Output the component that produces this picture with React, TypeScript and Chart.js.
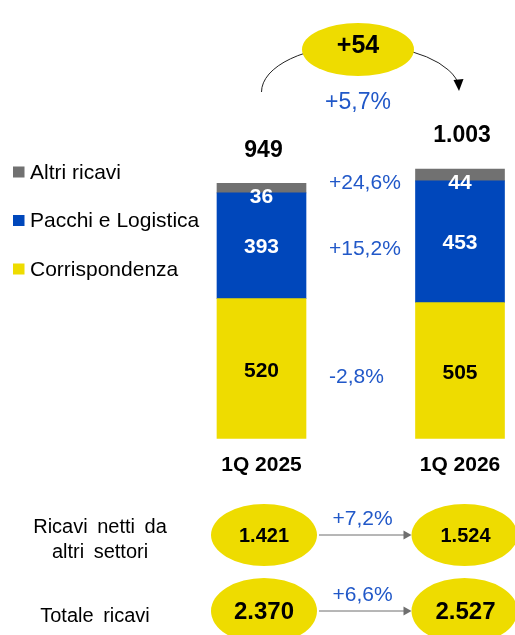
import React, { useEffect, useRef } from 'react';
import Chart from 'chart.js/auto';

const categories = ['1Q 2025', '1Q 2026'];
const corrispondenza = [520, 505];
const pacchiLogistica = [393, 453];
const altriRicavi = [36, 44];
const totals = [949, 1003];
const seriesNames = ['Corrispondenza', 'Pacchi e Logistica', 'Altri ricavi'];
const seriesColors = ['#EEDC00', '#0047BB', '#717171'];
const segmentChanges = ['-2,8%', '+15,2%', '+24,6%'];
const totalDelta = '+54';
const totalChange = '+5,7%';
const rowLabels = [['Ricavi netti da', 'altri settori'], ['Totale ricavi']];
const rows2025 = [1421, 2370];
const rows2026 = [1524, 2527];
const rowChanges = ['+7,2%', '+6,6%'];

const FONT = '"Liberation Sans", Arial, sans-serif';
const BLUE_TXT = '#2158C8';
const YELLOW = '#EEDC00';
const fmt = (n: number) => String(n).replace(/\B(?=(\d{3})+(?!\d))/g, '.');

const overlay = {
  id: 'overlay',
  afterDatasetsDraw(chart: any) {
    const ctx: CanvasRenderingContext2D = chart.ctx;
    const xs = chart.scales.x;
    const ys = chart.scales.y;
    const x1 = xs.getPixelForValue(0);
    const x2 = xs.getPixelForValue(1);
    ctx.save();
    ctx.textAlign = 'center';
    ctx.textBaseline = 'middle';

    // segment labels
    chart.data.datasets.forEach((ds: any, di: number) => {
      const meta = chart.getDatasetMeta(di);
      meta.data.forEach((el: any, i: number) => {
        const top = el.y;
        const bottom = el.base;
        const ly = di === 2 ? top + 14 : (top + bottom) / 2 + (di === 0 ? 3 : 1);
        ctx.font = `bold 21px ${FONT}`;
        ctx.fillStyle = di === 0 ? '#000000' : '#ffffff';
        ctx.fillText(String(ds.data[i]), el.x, ly);
      });
    });

    // segment change labels, aligned to second bar's segments
    chart.data.datasets.forEach((ds: any, di: number) => {
      const el = chart.getDatasetMeta(di).data[1];
      const ly = di === 2 ? el.y + 14 : (el.y + el.base) / 2 + 7;
      ctx.font = `21px ${FONT}`;
      ctx.fillStyle = BLUE_TXT;
      ctx.textAlign = 'left';
      ctx.fillText(segmentChanges[di], 329, ly);
      ctx.textAlign = 'center';
    });

    // totals above bars
    categories.forEach((c, i) => {
      const ty = ys.getPixelForValue(totals[i]) - 33;
      ctx.font = `bold 23px ${FONT}`;
      ctx.fillStyle = '#000000';
      ctx.fillText(fmt(totals[i]), xs.getPixelForValue(i) + 2, ty);
      ctx.font = `bold 21px ${FONT}`;
      ctx.fillText(c, xs.getPixelForValue(i), ys.getPixelForValue(0) + 27);
    });

    // top arc with arrow
    const cx = (x1 + x2) / 2;
    const rx = (x2 - x1) / 2;
    ctx.strokeStyle = '#222222';
    ctx.lineWidth = 1;
    ctx.beginPath();
    ctx.ellipse(cx, 92, rx, 47, 0, Math.PI, Math.PI * 2 - 0.12);
    ctx.stroke();
    ctx.fillStyle = '#000000';
    ctx.beginPath();
    ctx.moveTo(x2 - 1, 91);
    ctx.lineTo(x2 - 6.5, 80);
    ctx.lineTo(x2 + 3.5, 79);
    ctx.closePath();
    ctx.fill();

    // +54 bubble
    ctx.fillStyle = YELLOW;
    ctx.beginPath();
    ctx.ellipse(358, 49.5, 56, 26.5, 0, 0, Math.PI * 2);
    ctx.fill();
    ctx.fillStyle = '#000000';
    ctx.font = `bold 25px ${FONT}`;
    ctx.fillText(totalDelta, 358, 46);
    ctx.font = `23px ${FONT}`;
    ctx.fillStyle = BLUE_TXT;
    ctx.fillText(totalChange, 358, 103);

    // legend
    [2, 1, 0].forEach((di, k) => {
      const ly = 172 + k * 48.5;
      ctx.fillStyle = seriesColors[di];
      ctx.fillRect(13, ly - 5.5, 11.5, 11);
      ctx.fillStyle = '#000000';
      ctx.font = `21px ${FONT}`;
      ctx.textAlign = 'left';
      ctx.fillText(seriesNames[di], 30, ly + 1);
      ctx.textAlign = 'center';
    });

    // bottom rows
    const rowY = [535, 611];
    const rowFont = [20, 24];
    const rowRy = [31, 33];
    rowY.forEach((ry, r) => {
      const lx = x1 + 2.5;
      const rx2 = x2 + 4.5;
      ctx.fillStyle = YELLOW;
      ctx.beginPath();
      ctx.ellipse(lx, ry, 53, rowRy[r], 0, 0, Math.PI * 2);
      ctx.fill();
      ctx.beginPath();
      ctx.ellipse(rx2, ry, 53, rowRy[r], 0, 0, Math.PI * 2);
      ctx.fill();
      ctx.fillStyle = '#000000';
      ctx.font = `bold ${rowFont[r]}px ${FONT}`;
      ctx.fillText(fmt(rows2025[r]), lx, ry + 1);
      ctx.fillText(fmt(rows2026[r]), rx2 + 1, ry + 1);
      // arrow
      ctx.strokeStyle = '#6F6F6F';
      ctx.lineWidth = 1;
      ctx.beginPath();
      ctx.moveTo(lx + 55, ry);
      ctx.lineTo(rx2 - 58, ry);
      ctx.stroke();
      ctx.fillStyle = '#6F6F6F';
      ctx.beginPath();
      ctx.moveTo(rx2 - 53, ry);
      ctx.lineTo(rx2 - 61, ry - 4.5);
      ctx.lineTo(rx2 - 61, ry + 4.5);
      ctx.closePath();
      ctx.fill();
      ctx.fillStyle = BLUE_TXT;
      ctx.font = `21px ${FONT}`;
      ctx.fillText(rowChanges[r], 362.5, ry - 16);
      // row label
      ctx.fillStyle = '#000000';
      ctx.font = `20px ${FONT}`;
      (ctx as any).wordSpacing = '4px';
      const lines = rowLabels[r];
      if (lines.length === 2) {
        ctx.fillText(lines[0], 100, ry - 8);
        ctx.fillText(lines[1], 100, ry + 17);
      } else {
        ctx.fillText(lines[0], 95, ry + 5);
      }
      (ctx as any).wordSpacing = '0px';
    });

    ctx.restore();
  },
};

export default function App() {
  const ref = useRef<HTMLCanvasElement>(null);
  useEffect(() => {
    if (!ref.current) return;
    const data = [corrispondenza, pacchiLogistica, altriRicavi];
    const chart = new Chart(ref.current, {
      type: 'bar',
      data: {
        labels: categories,
        datasets: data.map((d, i) => ({
          label: seriesNames[i],
          data: d,
          backgroundColor: seriesColors[i],
          borderWidth: 0,
          barThickness: 89,
          clip: false as any,
        })),
      },
      options: {
        animation: false,
        responsive: false,
        devicePixelRatio: 1,
        events: [],
        layout: { padding: { left: 261.5, right: 55, top: 115.7, bottom: 196.5 } },
        scales: {
          x: { type: 'category', offset: false, display: false, stacked: true },
          y: { display: false, stacked: true, min: 0, max: 1200 },
        },
        plugins: { legend: { display: false }, tooltip: { enabled: false } },
      },
      plugins: [overlay],
    });
    return () => chart.destroy();
  }, []);
  return (
    <div style={{ position: 'absolute', left: 0, top: 0, width: 515, height: 635, background: '#fff' }}>
      <canvas ref={ref} width={515} height={635} style={{ display: 'block' }} />
    </div>
  );
}
